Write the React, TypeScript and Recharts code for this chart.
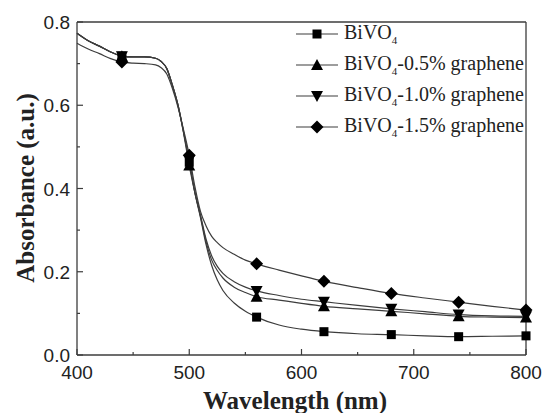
import React from 'react';
import { LineChart, Line, XAxis, YAxis, ReferenceLine } from 'recharts';

// wavelength grid (nm) and absorbance
const wavelengths = [400, 410, 420, 430, 440, 450, 460, 470, 475, 480, 485, 490, 495, 500, 505, 510, 515, 520, 525, 530, 540, 550, 560, 580, 600, 620, 650, 680, 710, 740, 770, 800];
const bivo4 = [0.773, 0.755, 0.742, 0.728, 0.718, 0.716, 0.716, 0.713, 0.705, 0.688, 0.648, 0.600, 0.535, 0.463, 0.390, 0.330, 0.265, 0.215, 0.180, 0.155, 0.125, 0.105, 0.091, 0.072, 0.062, 0.056, 0.051, 0.049, 0.046, 0.044, 0.045, 0.046];
const g05 = [0.773, 0.755, 0.742, 0.728, 0.718, 0.716, 0.716, 0.713, 0.705, 0.688, 0.648, 0.600, 0.532, 0.455, 0.390, 0.333, 0.272, 0.228, 0.203, 0.185, 0.163, 0.150, 0.140, 0.132, 0.124, 0.117, 0.111, 0.105, 0.099, 0.093, 0.091, 0.090];
const g10 = [0.773, 0.755, 0.742, 0.728, 0.718, 0.716, 0.716, 0.713, 0.705, 0.688, 0.648, 0.600, 0.535, 0.468, 0.392, 0.336, 0.278, 0.238, 0.213, 0.196, 0.176, 0.163, 0.154, 0.143, 0.134, 0.128, 0.119, 0.111, 0.104, 0.097, 0.094, 0.093];
const g15 = [0.749, 0.735, 0.724, 0.712, 0.704, 0.701, 0.700, 0.697, 0.690, 0.675, 0.640, 0.595, 0.540, 0.480, 0.405, 0.345, 0.310, 0.285, 0.270, 0.258, 0.242, 0.228, 0.219, 0.204, 0.190, 0.177, 0.162, 0.148, 0.137, 0.127, 0.117, 0.108];

const markerWavelengths = [440, 500, 560, 620, 680, 740, 800];
const xMajor = [400, 500, 600, 700, 800];
const xMinor = [450, 550, 650, 750];
const yMajor = [0, 0.2, 0.4, 0.6, 0.8];
const yMinor = [0.1, 0.3, 0.5, 0.7];

const series = [
  { key: 'bivo4', values: bivo4, suffix: '', shape: 'square' },
  { key: 'g05', values: g05, suffix: '-0.5% graphene', shape: 'up' },
  { key: 'g10', values: g10, suffix: '-1.0% graphene', shape: 'down' },
  { key: 'g15', values: g15, suffix: '-1.5% graphene', shape: 'diamond' },
];

const data = wavelengths.map((wl, i) => {
  const row: any = { wl };
  series.forEach(s => { row[s.key] = s.values[i]; });
  return row;
});

const LINE = '#3c3c3c';
const TICK_FONT = '"Liberation Sans", Arial, sans-serif';
const SERIF = "'Liberation Serif', 'DejaVu Serif', 'Times New Roman', serif";

function Marker({ shape, cx, cy }: { shape: string; cx: number; cy: number }) {
  if (shape === 'square') return <rect x={cx - 4.5} y={cy - 4.5} width={9} height={9} fill="#000" />;
  if (shape === 'up') return <polygon points={`${cx},${cy - 6} ${cx - 6},${cy + 5} ${cx + 6},${cy + 5}`} fill="#000" />;
  if (shape === 'down') return <polygon points={`${cx},${cy + 6} ${cx - 6},${cy - 5} ${cx + 6},${cy - 5}`} fill="#000" />;
  return <polygon points={`${cx},${cy - 6.5} ${cx + 6.5},${cy} ${cx},${cy + 6.5} ${cx - 6.5},${cy}`} fill="#000" />;
}

const makeDot = (shape: string) => (props: any) => {
  const { cx, cy, payload, index } = props;
  if (!markerWavelengths.includes(payload.wl)) return <g key={`e-${shape}-${index}`} />;
  return <g key={`m-${shape}-${index}`}><Marker shape={shape} cx={cx} cy={cy} /></g>;
};

const XTick = (props: any) => {
  const { x, y, payload } = props;
  const major = xMajor.includes(payload.value);
  return (
    <g>
      <line x1={x} x2={x} y1={y} y2={y - (major ? 6 : 3)} stroke={LINE} strokeWidth={1.2} />
      {major && (
        <text x={x} y={y + 24} textAnchor="middle" fontSize={19} fill="#222" fontFamily={TICK_FONT}>
          {payload.value}
        </text>
      )}
    </g>
  );
};

const YTick = (props: any) => {
  const { x, y, payload } = props;
  const major = yMajor.some(v => Math.abs(v - payload.value) < 1e-6);
  return (
    <g>
      <line x1={x} x2={x + (major ? 6 : 3)} y1={y} y2={y} stroke={LINE} strokeWidth={1.2} />
      {major && (
        <text x={x - 7} y={y + 7} textAnchor="end" fontSize={19} fill="#222" fontFamily={TICK_FONT}>
          {payload.value.toFixed(1)}
        </text>
      )}
    </g>
  );
};

export default function App() {
  return (
    <div style={{ position: 'absolute', left: 0, top: 0, width: 543, height: 413, background: '#fff' }}>
      <LineChart width={543} height={413} data={data} margin={{ top: 22, right: 17, bottom: 18, left: 17 }}>
        <XAxis
          dataKey="wl"
          type="number"
          domain={[400, 800]}
          ticks={[...xMajor, ...xMinor].sort((a, b) => a - b)}
          height={40}
          tickSize={0}
          tickMargin={0}
          tick={<XTick />}
          axisLine={{ stroke: LINE, strokeWidth: 1.3 }}
          tickLine={false}
          interval={0}
        />
        <YAxis
          type="number"
          domain={[0, 0.8]}
          ticks={[...yMajor, ...yMinor].sort((a, b) => a - b)}
          width={60}
          tickSize={0}
          tickMargin={0}
          tick={<YTick />}
          axisLine={{ stroke: LINE, strokeWidth: 1.3 }}
          tickLine={false}
          interval={0}
        />
        <ReferenceLine y={0.8} stroke={LINE} strokeWidth={1.3} ifOverflow="visible" />
        <ReferenceLine x={800} stroke={LINE} strokeWidth={1.3} ifOverflow="visible" />
        {series.map(s => (
          <Line
            key={s.key}
            dataKey={s.key}
            type="monotone"
            stroke={LINE}
            strokeWidth={1.2}
            dot={makeDot(s.shape)}
            activeDot={false}
            isAnimationActive={false}
          />
        ))}
      </LineChart>

      {/* axis titles */}
      <div
        style={{
          position: 'absolute', left: 25, top: 188, transform: 'translate(-50%, -50%) rotate(-90deg)',
          whiteSpace: 'nowrap', fontFamily: SERIF, fontWeight: 'bold', fontSize: 25, lineHeight: '25px', color: '#222',
        }}
      >
        Absorbance (a.u.)
      </div>
      <div
        style={{
          position: 'absolute', left: 295, top: 388, transform: 'translateX(-50%)',
          whiteSpace: 'nowrap', fontFamily: SERIF, fontWeight: 'bold', fontSize: 25, color: '#222', lineHeight: '25px',
        }}
      >
        Wavelength (nm)
      </div>

      {/* legend */}
      <div style={{ position: 'absolute', left: 296, top: 18 }}>
        {series.map(s => (
          <div key={s.key} style={{ display: 'flex', alignItems: 'center', height: 31, fontFamily: SERIF, fontSize: 20, color: '#222' }}>
            <svg width={44} height={20} style={{ marginRight: 4 }}>
              <line x1={0} x2={42} y1={10} y2={10} stroke={LINE} strokeWidth={1.2} />
              <Marker shape={s.shape} cx={21} cy={10} />
            </svg>
            <span style={{ whiteSpace: 'nowrap' }}>
              BiVO<sub style={{ fontSize: 11 }}>4</sub>{s.suffix}
            </span>
          </div>
        ))}
      </div>
    </div>
  );
}
